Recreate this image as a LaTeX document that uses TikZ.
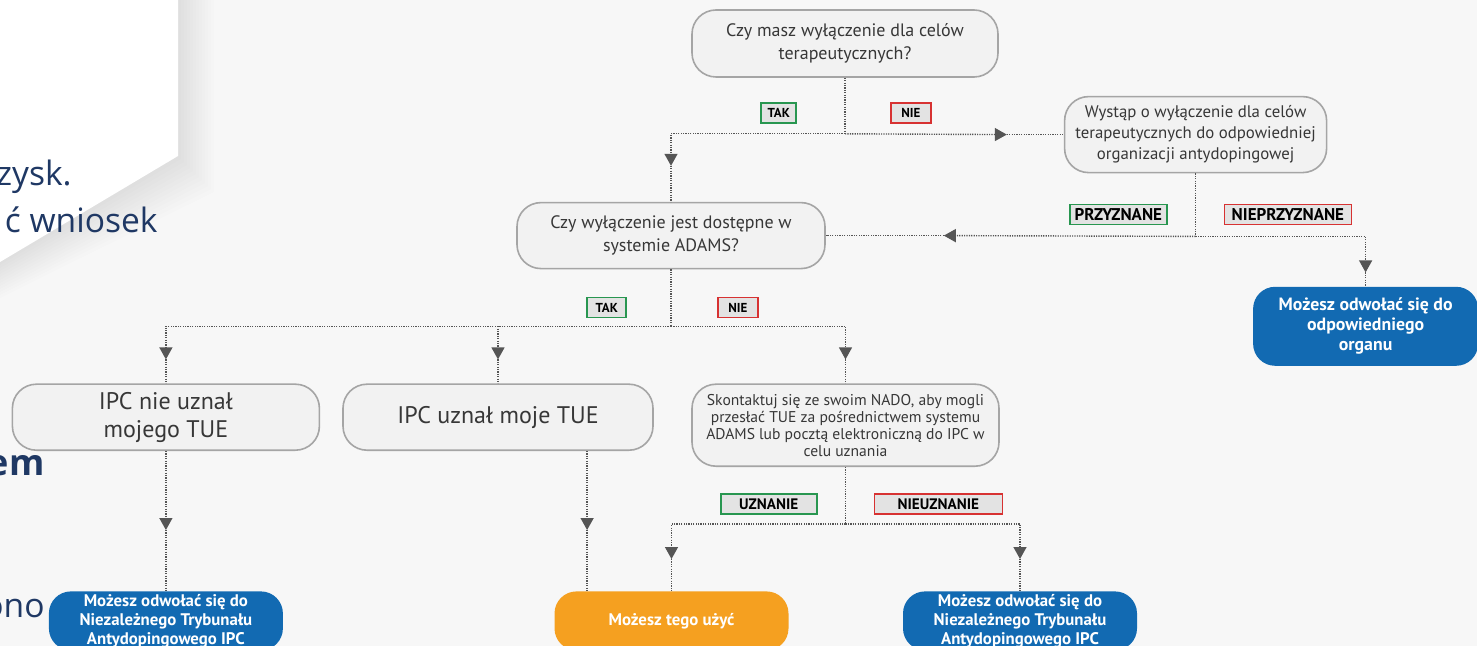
\documentclass[tikz,border=0pt]{standalone}
\usepackage{fontspec}
\setmainfont{PT Sans}
\newfontfamily\slidefont{Open Sans}
\usepackage{tikz}
\usetikzlibrary{shapes,arrows.meta,positioning,calc}
\definecolor{bg}{RGB}{247,247,247}
\definecolor{boxfill}{RGB}{242,242,242}
\definecolor{boxline}{RGB}{165,165,165}
\definecolor{boxtext}{RGB}{55,55,55}
\definecolor{blue}{RGB}{18,106,178}
\definecolor{orange}{RGB}{245,160,32}
\definecolor{green}{RGB}{40,150,80}
\definecolor{red}{RGB}{215,50,50}
\definecolor{navy}{RGB}{31,56,100}
\definecolor{dotcol}{RGB}{85,85,85}
\tikzstyle{question} = [rectangle, rounded corners=12pt, draw=boxline, line width=0.8pt, fill=boxfill, text=boxtext, align=center, inner sep=1pt]
\tikzstyle{result} = [rectangle, rounded corners=11pt, fill=blue, text=white, align=center, inner sep=1pt, minimum width=117pt, minimum height=29.5pt, font=\bfseries\fontsize{8.4}{9.5}\selectfont]
\tikzstyle{yesbox} = [rectangle, draw=green, line width=0.8pt, fill=boxfill!94!black, text=black, inner sep=1pt, minimum height=10pt, font=\bfseries\fontsize{6.5}{7}\selectfont]
\tikzstyle{nobox} = [yesbox, draw=red]
\tikzstyle{slide} = [inner sep=0pt, text=navy, font=\slidefont\fontsize{16.8}{20}\selectfont]
\tikzstyle{dots} = [draw=dotcol, line width=0.7pt, dash pattern=on 0.6pt off 0.6pt]
\tikzstyle{tedge} = [dots, -{Triangle[width=6.5pt,length=6pt]}]

\begin{document}
\begin{tikzpicture}[x=0.5pt, y=-0.5pt]

\useasboundingbox (0,0) rectangle (1477,646);

% background =============================
\fill[bg] (0,0) rectangle (1477,646);
\foreach \d in {3,6,...,36}
  \fill[black, opacity=0.008] (0,0) -- ({178+\d},0) -- ({178+\d},{156+\d}) -- (0,{262+\d}) -- cycle;
\fill[white] (0,0) -- (178,0) -- (178,156) -- (0,262) -- cycle;

\node[slide, anchor=base east] (s1) at (72,186) {zysk.};
\node[slide, anchor=base east] (s2) at (158,233) {ć wniosek};
\node[slide, font=\slidefont\bfseries\fontsize{18}{20}\selectfont, anchor=base east] (s3) at (45,475) {em};
\node[slide, anchor=base east] (s4) at (45,617) {ono};

% questions ==============================
\node[question, minimum width=153pt, minimum height=33.5pt, font=\fontsize{9}{11.5}\selectfont] (q1) at (845,43.5) {Czy masz wyłączenie dla celów\\terapeutycznych?};
\node[question, minimum width=131pt, minimum height=38pt, font=\fontsize{8.4}{10.5}\selectfont, below right=9pt and 32.5pt of q1] (q2) {Wystąp o wyłączenie dla celów\\terapeutycznych do odpowiedniej\\organizacji antydopingowej};
\node[question, minimum width=154pt, minimum height=33pt, font=\fontsize{9}{11.5}\selectfont, below=62pt of q1, xshift=-87pt] (q3) {Czy wyłączenie jest dostępne w\\systemie ADAMS?};

% answers
\node[question, minimum width=155pt, minimum height=33pt, font=\fontsize{12}{14}\selectfont, below=57pt of q3, xshift=-86.5pt] (n2) {IPC uznał moje TUE};
\node[question, minimum width=153.5pt, minimum height=33pt, font=\fontsize{12}{14}\selectfont, left=11pt of n2] (n1) {IPC nie uznał\\mojego TUE};
\node[question, minimum width=153.5pt, minimum height=41pt, font=\fontsize{7.8}{8.5}\selectfont, below=57pt of q3, xshift=87.25pt] (n3) {Skontaktuj się ze swoim NADO, aby mogli\\przesłać TUE za pośrednictwem systemu\\ADAMS lub pocztą elektroniczną do IPC w\\celu uznania};

% results
\node[result, minimum width=112.5pt, minimum height=39.5pt, font=\bfseries\fontsize{8.9}{10}\selectfont, below=56.5pt of q2, xshift=85pt] (blueR) {Możesz odwołać się do\\odpowiedniego\\organu};
\node[result, below=70pt of n1] (blueL) {Możesz odwołać się do\\Niezależnego Trybunału\\Antydopingowego IPC};
\node[result, fill=orange, below=70pt of n2, xshift=86.75pt] (use) {Możesz tego użyć};
\node[result, below=62pt of n3, xshift=87.25pt] (blueM) {Możesz odwołać się do\\Niezależnego Trybunału\\Antydopingowego IPC};

% junctions and tips
\coordinate[below=28pt of q1] (j1);
\coordinate[above=18pt of q3] (t1);
\coordinate[left=28.5pt of q2] (t2);
\coordinate[below=31.5pt of q2] (j2);
\coordinate[right=59pt of q3] (t3);
\coordinate[above=7pt of blueR] (t4);
\coordinate[below=28.5pt of q3] (j3);
\coordinate[above=12pt of n1] (t5);
\coordinate[above=12pt of n2] (t6);
\coordinate[above=12pt of n3] (t7);
\coordinate[above=30.5pt of blueL] (t8);
\coordinate[above right=30.5pt and 16.5pt of use.north west] (t9);
\coordinate[below=28.5pt of n3] (j4);
\coordinate[above=16pt of use] (t10);
\coordinate[above=16pt of blueM] (t11);

% labels
\node[yesbox, minimum width=17.5pt, above left=5pt and 24pt of j1] (tak1) {TAK};
\node[nobox, minimum width=20pt, above right=5pt and 22.5pt of j1] (nie1) {NIE};
\node[yesbox, minimum width=48.5pt, font=\bfseries\fontsize{8.5}{9}\selectfont, above left=5.5pt and 14pt of j2] (przyz) {PRZYZNANE};
\node[nobox, minimum width=63.5pt, font=\bfseries\fontsize{8.5}{9}\selectfont, above right=5.5pt and 14pt of j2] (nieprzyz) {NIEPRZYZNANE};
\node[yesbox, minimum width=19.5pt, above left=4pt and 22pt of j3] (tak2) {TAK};
\node[nobox, minimum width=20pt, above right=4pt and 23pt of j3] (nie2) {NIE};
\node[yesbox, minimum width=48pt, font=\bfseries\fontsize{7.6}{8}\selectfont, above left=4.5pt and 14pt of j4] (uzn) {UZNANIE};
\node[nobox, minimum width=64pt, font=\bfseries\fontsize{7.6}{8}\selectfont, above right=4.5pt and 14pt of j4] (nieuzn) {NIEUZNANIE};

%edges
\path[dots] (q1) -- (j1);
\path[tedge] (j1) -| (t1);
\path[dots] (t1) -- (q3);
\path[tedge] (j1) -- (t2);
\path[dots] (t2) -- (q2);

\path[dots] (q2) -- (j2);
\path[tedge] (j2) -- (t3);
\path[dots] (t3) -- (q3);
\path[tedge] (j2) -| (t4);
\path[dots] (t4) -- (blueR);

\path[dots] (q3) -- (j3);
\path[tedge] (j3) -| (t5);
\path[tedge] (j3) -| (t6);
\path[tedge] (j3) -| (t7);
\path[dots] (t5) -- (n1);
\path[dots] (t6) -- (n2);
\path[dots] (t7) -- (n3);

\path[tedge] (n1) -- (t8);
\path[dots] (t8) -- (blueL);
\path[tedge] (n2.south -| t9) -- (t9);
\path[dots] (t9) -- (t9 |- use.north);

\path[dots] (n3) -- (j4);
\path[tedge] (j4) -| (t10);
\path[tedge] (j4) -| (t11);
\path[dots] (t10) -- (use);
\path[dots] (t11) -- (blueM);

\end{tikzpicture}
\end{document}
